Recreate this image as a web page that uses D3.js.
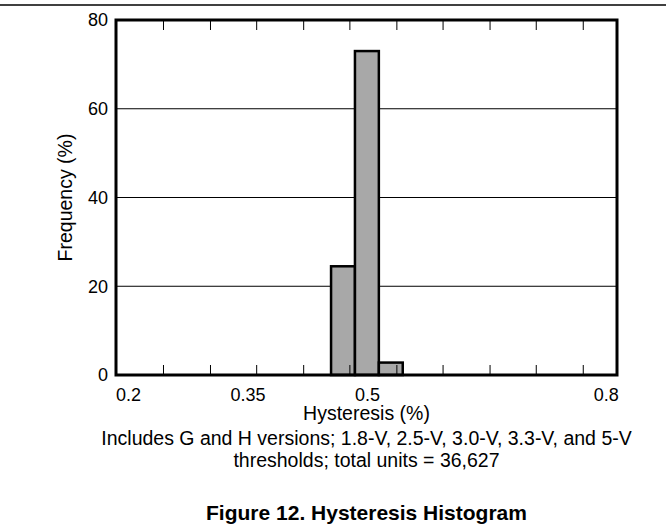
<!DOCTYPE html>
<html lang="en">
<head>
    <meta charset="UTF-8">
    <title>Hysteresis Histogram</title>
    <script src="https://d3js.org/d3.v7.min.js"></script>
    <style>
        body { margin: 0; background: #fff; }
        text { font-family: "Liberation Sans", Arial, sans-serif; fill: #000; }
    </style>
</head>
<body>
    <svg width="666" height="529" id="mainsvg"></svg>

    <script>
        // histogram data
        const binCenters = [0.47, 0.50, 0.53];
        const frequency = [24.5, 73, 2.8];
        const binWidth = 0.03;
        const xTickLabels = [0.2, 0.35, 0.5, 0.8];
        const xMinorTicks = [0.244, 0.303, 0.361, 0.420, 0.478, 0.537, 0.595, 0.654, 0.712, 0.771];
        const yTicks = [0, 20, 40, 60, 80];
        const captionLines = [
            'Includes G and H versions; 1.8-V, 2.5-V, 3.0-V, 3.3-V, and 5-V',
            'thresholds; total units = 36,627'
        ];
        const figureTitle = 'Figure 12. Hysteresis Histogram';

        const svg = d3.select('#mainsvg');
        const width = +svg.attr('width');
        const margin = {top: 20, right: 49, bottom: 154, left: 116};
        const innerWidth = width - margin.left - margin.right;
        const innerHeight = +svg.attr('height') - margin.top - margin.bottom;

        const xScale = d3.scaleLinear().domain([0.185, 0.814]).range([0, innerWidth]);
        const yScale = d3.scaleLinear().domain([0, 80]).range([innerHeight, 0]);

        // rule across the top of the page
        svg.append('line')
            .attr('x1', 0).attr('x2', width)
            .attr('y1', 5).attr('y2', 5)
            .attr('stroke', '#000').attr('stroke-width', 1.5);

        const g = svg.append('g').attr('transform', `translate(${margin.left},${margin.top})`);

        // grid lines
        g.selectAll('.grid').data(yTicks.slice(1, -1)).join('line')
            .attr('class', 'grid')
            .attr('x1', 0).attr('x2', innerWidth)
            .attr('y1', d => yScale(d)).attr('y2', d => yScale(d))
            .attr('stroke', '#000').attr('stroke-width', 1);

        // bars
        g.selectAll('rect.bar').data(binCenters).join('rect')
            .attr('class', 'bar')
            .attr('x', d => xScale(d - binWidth / 2))
            .attr('width', d => xScale(d + binWidth / 2) - xScale(d - binWidth / 2))
            .attr('y', (d, i) => yScale(frequency[i]))
            .attr('height', (d, i) => innerHeight - yScale(frequency[i]))
            .attr('fill', '#a8a8a8')
            .attr('stroke', '#000')
            .attr('stroke-width', 2.5);

        // minor ticks on top and bottom (no labels)
        const topTicks = d3.axisBottom(xScale).tickValues(xMinorTicks).tickSize(10);
        const botTicks = d3.axisTop(xScale).tickValues(xMinorTicks).tickSize(10);
        g.append('g').call(topTicks)
            .call(a => a.select('.domain').remove())
            .call(a => a.selectAll('text').remove());
        g.append('g').attr('transform', `translate(0,${innerHeight})`).call(botTicks)
            .call(a => a.select('.domain').remove())
            .call(a => a.selectAll('text').remove());
        g.selectAll('.tick line').attr('stroke', '#000').attr('stroke-width', 1);

        // frame
        g.append('rect')
            .attr('width', innerWidth).attr('height', innerHeight)
            .attr('fill', 'none').attr('stroke', '#000').attr('stroke-width', 3);

        // tick labels
        const xAxis = d3.axisBottom(xScale).tickValues(xTickLabels).tickSize(0).tickPadding(13)
            .tickFormat(d => String(d));
        g.append('g').attr('transform', `translate(0,${innerHeight})`).call(xAxis)
            .call(a => a.select('.domain').remove())
            .selectAll('text').attr('font-size', 18).attr('font-family', null);

        const yAxis = d3.axisLeft(yScale).tickValues(yTicks).tickSize(0).tickPadding(8);
        g.append('g').call(yAxis)
            .call(a => a.select('.domain').remove())
            .selectAll('text').attr('font-size', 18).attr('font-family', null);

        // axis titles
        g.append('text').text('Hysteresis (%)')
            .attr('x', innerWidth / 2).attr('y', innerHeight + 45)
            .attr('text-anchor', 'middle').attr('font-size', 19.5);

        g.append('text').text('Frequency (%)')
            .attr('transform', `translate(${-44},${innerHeight / 2}) rotate(-90)`)
            .attr('text-anchor', 'middle').attr('font-size', 19.5);

        // caption and figure title
        g.selectAll('.caption').data(captionLines).join('text')
            .attr('class', 'caption')
            .text(d => d)
            .attr('x', innerWidth / 2)
            .attr('y', (d, i) => innerHeight + 70 + i * 22)
            .attr('text-anchor', 'middle').attr('font-size', 19.5);

        g.append('text').text(figureTitle)
            .attr('x', innerWidth / 2).attr('y', innerHeight + 145)
            .attr('text-anchor', 'middle').attr('font-size', 21).attr('font-weight', 'bold');
    </script>
</body>
</html>
